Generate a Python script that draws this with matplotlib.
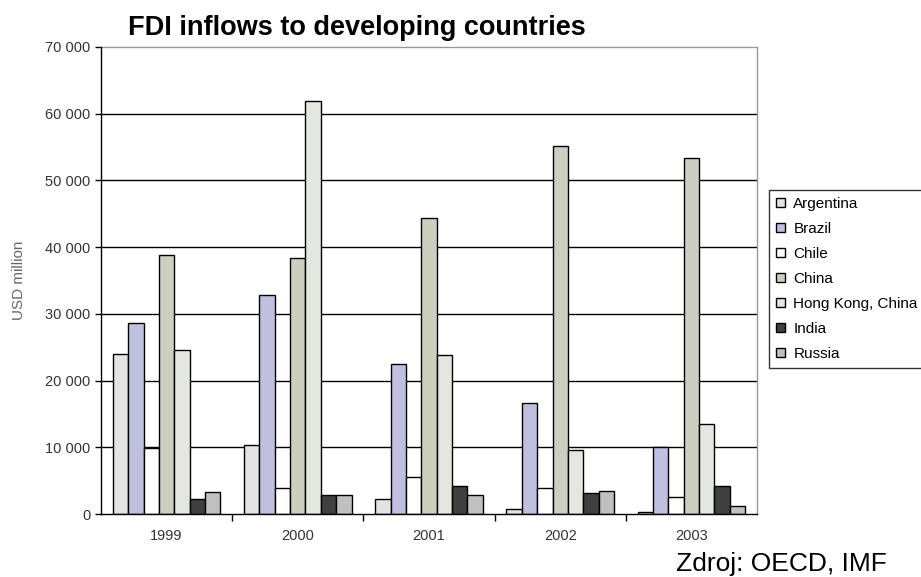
import numpy as np
import matplotlib.pyplot as plt
from matplotlib.ticker import FuncFormatter

plt.rcParams['font.family'] = ['Liberation Sans', 'DejaVu Sans']

years = ['1999', '2000', '2001', '2002', '2003']
countries = ['Argentina', 'Brazil', 'Chile', 'China', 'Hong Kong, China', 'India', 'Russia']

# FDI inflows, USD million
argentina = [24000, 10400, 2200, 800, 300]
brazil = [28600, 32800, 22500, 16600, 10100]
chile = [9900, 3900, 5600, 3900, 2500]
china = [38800, 38400, 44300, 55100, 53400]
hong_kong = [24600, 61900, 23900, 9600, 13500]
india = [2200, 2800, 4200, 3100, 4200]
russia = [3300, 2800, 2800, 3400, 1200]

series = [argentina, brazil, chile, china, hong_kong, india, russia]
colors = ['#e3e3e3', '#bfc0e0', '#ffffff', '#cccfc0', '#e4e6e0', '#404040', '#c0c0c0']

fig = plt.figure(figsize=(9.21, 5.77), dpi=100)
ax = fig.add_axes([101 / 921, 1 - 514 / 577, 656 / 921, 467 / 577])

x = np.arange(len(years))
w = 0.117
for i, (vals, c) in enumerate(zip(series, colors)):
    ax.bar(x + (i - 3) * w, vals, w, color=c, edgecolor='black', linewidth=1.0,
           label=countries[i], zorder=3)

ax.set_xlim(-0.5, len(years) - 0.5)
ax.set_ylim(0, 70000)
ax.set_yticks(np.arange(0, 70001, 10000))
ax.yaxis.set_major_formatter(FuncFormatter(lambda v, p: f'{int(v):,}'.replace(',', ' ')))
for v in range(10000, 70000, 10000):
    ax.axhline(v, color='black', linewidth=1.0, zorder=1)

ax.set_xticks(x)
ax.set_xticklabels(years)
ax.set_xticks(np.arange(0.5, len(years) - 1, 1), minor=True)
ax.tick_params(axis='x', which='major', length=0, pad=11, labelsize=10.5, labelcolor='#333333')
ax.tick_params(axis='x', which='minor', length=5, width=1, direction='out')
ax.tick_params(axis='y', length=4, width=1, direction='out', pad=3.5,
               labelsize=10.5, labelcolor='#333333')

for s in ['left', 'bottom']:
    ax.spines[s].set_linewidth(1.0)
    ax.spines[s].set_zorder(4)
for s in ['top', 'right']:
    ax.spines[s].set_color('#999999')
    ax.spines[s].set_linewidth(1.0)

ax.set_ylabel('USD million', fontsize=11, color='#666666', labelpad=14)

fig.text(128 / 921, 1 - 35 / 577, 'FDI inflows to developing countries',
         fontsize=19.5, fontweight='bold', va='baseline', ha='left')
fig.text(676 / 921, 1 - 571 / 577, 'Zdroj: OECD, IMF', fontsize=19, va='baseline', ha='left')

leg = fig.legend(loc='upper left', bbox_to_anchor=(769 / 921, 1 - 190 / 577),
                 prop={'size': 11}, frameon=True, fancybox=False, edgecolor='black',
                 handlelength=0.6, handleheight=0.6, handletextpad=0.55,
                 labelspacing=0.72, borderpad=0.45, borderaxespad=0)
leg.get_frame().set_linewidth(1.0)

fig.savefig('out.png', dpi=100)
